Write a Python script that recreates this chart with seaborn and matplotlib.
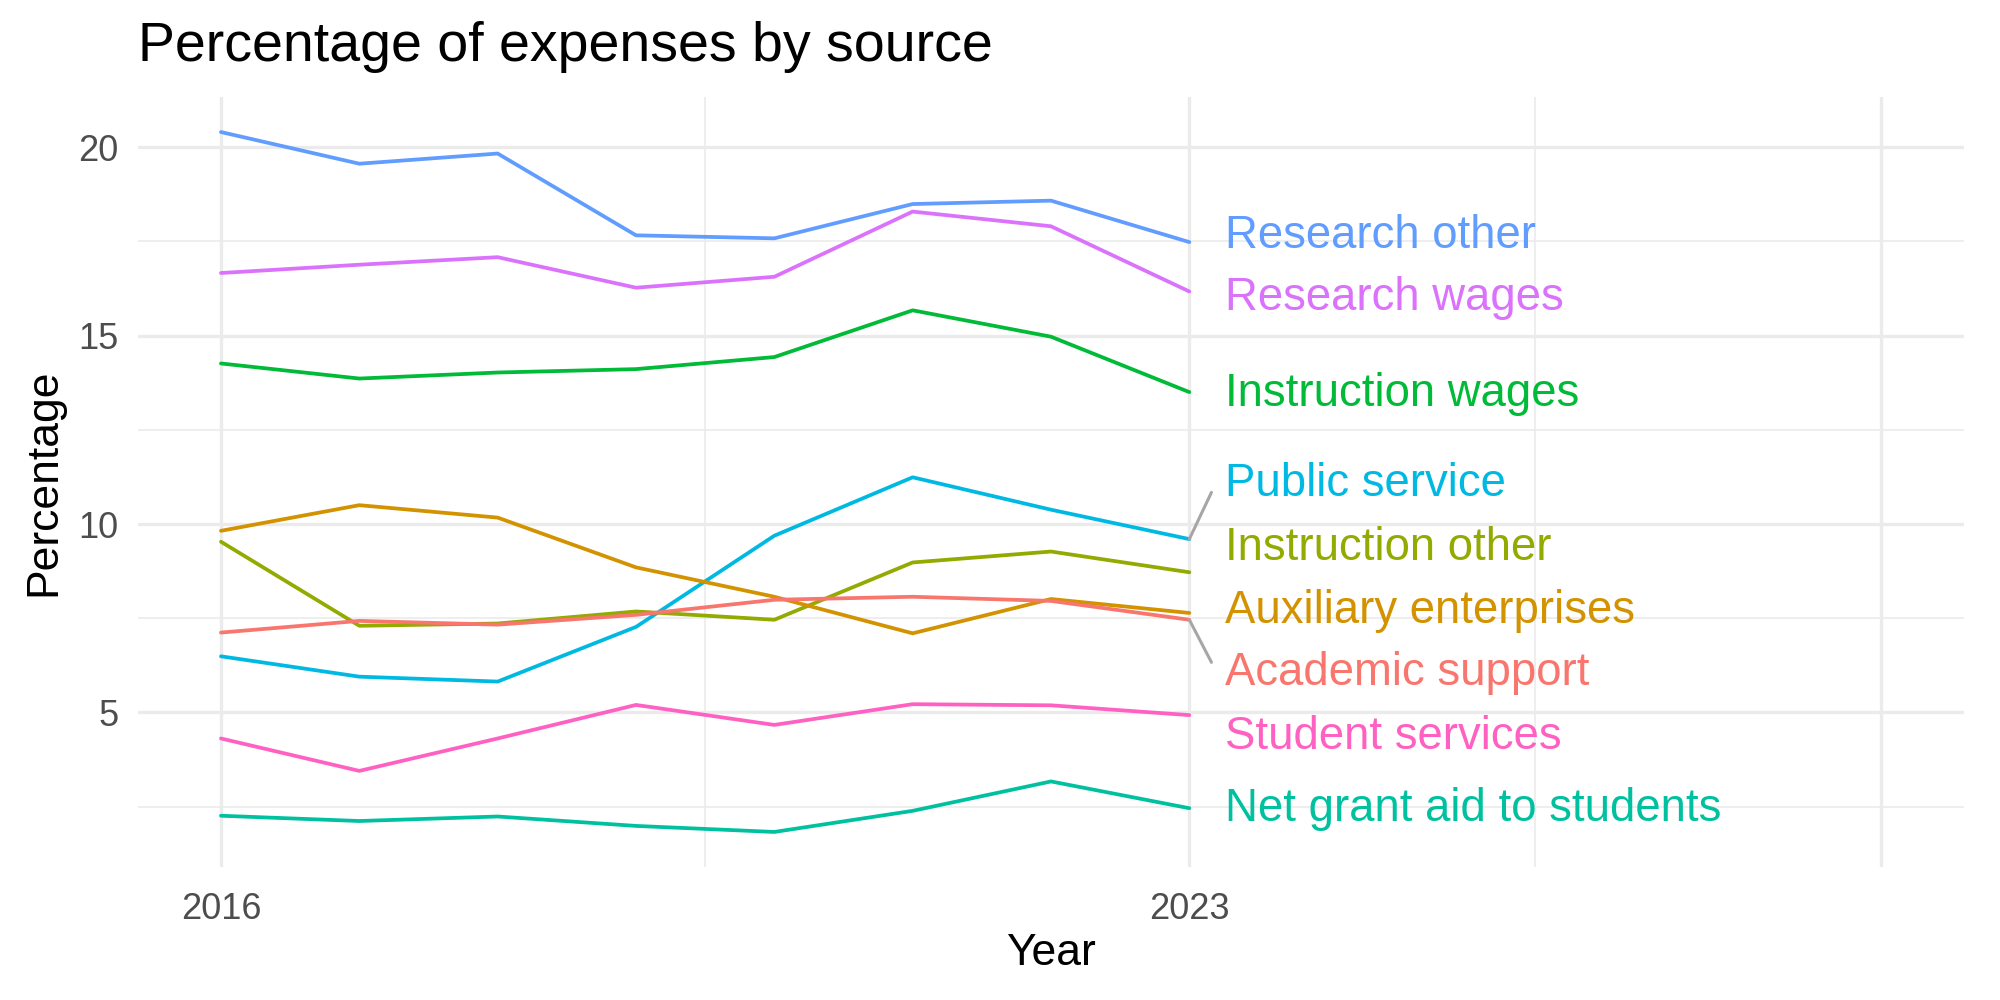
import pandas as pd
import matplotlib.pyplot as plt
import seaborn as sns

years = [2016, 2017, 2018, 2019, 2020, 2021, 2022, 2023]

research_other = [20.40, 19.56, 19.83, 17.66, 17.58, 18.49, 18.58, 17.48]
research_wages = [16.66, 16.88, 17.08, 16.27, 16.56, 18.29, 17.90, 16.17]
instruction_wages = [14.26, 13.86, 14.02, 14.11, 14.43, 15.67, 14.97, 13.50]
public_service = [6.49, 5.95, 5.82, 7.27, 9.69, 11.24, 10.38, 9.60]
instruction_other = [9.53, 7.30, 7.36, 7.68, 7.46, 8.98, 9.27, 8.72]
auxiliary = [9.82, 10.50, 10.17, 8.85, 8.07, 7.10, 8.01, 7.64]
academic_support = [7.12, 7.43, 7.33, 7.59, 7.99, 8.07, 7.96, 7.46]
student_services = [4.31, 3.45, 4.31, 5.20, 4.67, 5.22, 5.19, 4.93]
net_grant_aid = [2.26, 2.12, 2.24, 1.99, 1.83, 2.39, 3.17, 2.46]

series = {
    "Research other": research_other,
    "Research wages": research_wages,
    "Instruction wages": instruction_wages,
    "Public service": public_service,
    "Instruction other": instruction_other,
    "Auxiliary enterprises": auxiliary,
    "Academic support": academic_support,
    "Student services": student_services,
    "Net grant aid to students": net_grant_aid,
}

# where the repelled labels ended up
label_y = [17.63, 16.00, 13.46, 11.06, 9.37, 7.68, 6.05, 4.36, 2.43]

palette = {
    "Academic support": "#F8766D",
    "Auxiliary enterprises": "#D39200",
    "Instruction other": "#93AA00",
    "Instruction wages": "#00BA38",
    "Net grant aid to students": "#00C19F",
    "Public service": "#00B9E3",
    "Research other": "#619CFF",
    "Research wages": "#DB72FB",
    "Student services": "#FF61C3",
}

rows = []
for name, vals in series.items():
    for y, v in zip(years, vals):
        rows.append({"Year": y, "Percentage": v, "source": name})
df = pd.DataFrame(rows)

sns.set_theme(style="white")
plt.rcParams['font.family'] = ['Liberation Sans', 'DejaVu Sans']

fig, ax = plt.subplots(figsize=(10, 5), dpi=200)
fig.subplots_adjust(left=0.069, right=0.982, top=0.903, bottom=0.133)

sns.lineplot(data=df, x="Year", y="Percentage", hue="source",
             palette=palette, linewidth=1.35, legend=False, ax=ax)

# labels at line ends
for (name, vals), ly in zip(series.items(), label_y):
    ax.text(2023.26, ly, name, color=palette[name], fontsize=16.4,
            va="center", ha="left")
# leader segments for the two labels pushed away
ax.plot([2023, 2023.16], [public_service[-1], 10.84], color="#A6A6A6", lw=1.1)
ax.plot([2023, 2023.16], [academic_support[-1], 6.33], color="#A6A6A6", lw=1.1)

ax.set_xlim(2015.4, 2028.6)
ax.set_ylim(0.90, 21.33)
ax.set_xticks([2016, 2023, 2028])
ax.set_xticklabels(["2016", "2023", ""])
ax.set_xticks([2019.5, 2025.5], minor=True)
ax.set_yticks([5, 10, 15, 20])
ax.set_yticks([2.5, 7.5, 12.5, 17.5], minor=True)

ax.grid(which="major", color="#EBEBEB", linewidth=1.2)
ax.grid(which="minor", color="#EBEBEB", linewidth=0.6)
ax.set_axisbelow(True)
for s in ax.spines.values():
    s.set_visible(False)
ax.tick_params(which="both", length=0)
ax.tick_params(axis="both", labelsize=13, labelcolor="#4D4D4D")
ax.tick_params(axis="x", pad=9)
ax.tick_params(axis="y", pad=7)

ax.set_xlabel("Year", fontsize=16, labelpad=2, color="black")
ax.set_ylabel("Percentage", fontsize=16, labelpad=5, color="black")
ax.set_title("Percentage of expenses by source", fontsize=20, loc="left",
             pad=13, x=0, color="black")

plt.savefig("out.png")
plt.close()
